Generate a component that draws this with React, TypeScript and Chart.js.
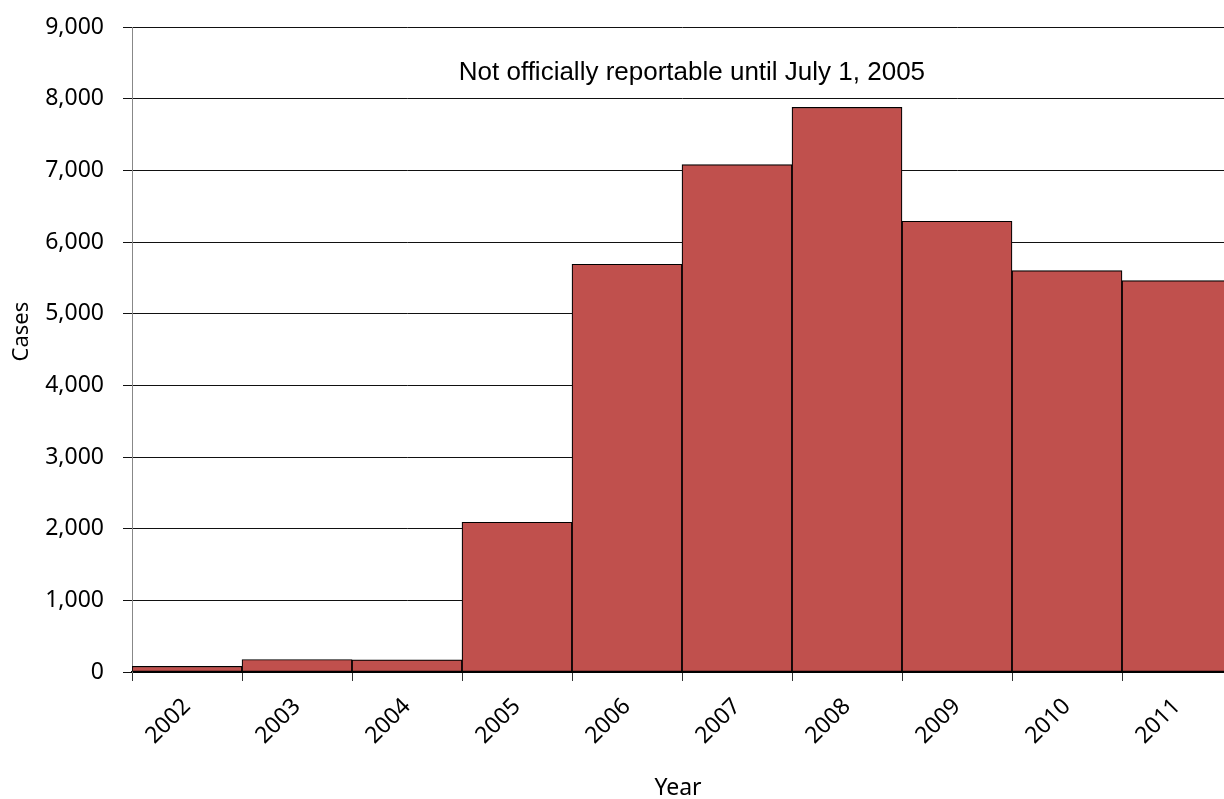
import React, { useEffect, useRef } from "react";
import { Chart, registerables } from "chart.js";

Chart.register(...registerables);

const years = ["2002", "2003", "2004", "2005", "2006", "2007", "2008", "2009", "2010", "2011"];
const cases = [80, 175, 170, 2090, 5690, 7080, 7880, 6290, 5600, 5460];
const yTicksMax = 9000;
const yTickStep = 1000;
const noteText = "Not officially reportable until July 1, 2005";
const xTitle = "Year";
const yTitle = "Cases";

const tickFont = "Noto Sans";

export default function App() {
  const ref = useRef<HTMLCanvasElement | null>(null);
  useEffect(() => {
    if (!ref.current) return;
    const textPlugin = {
      id: "texts",
      afterDraw(chart: any) {
        const ctx = chart.ctx;
        const ca = chart.chartArea;
        const xs = chart.scales.x;
        const ys = chart.scales.y;
        ctx.save();
        ctx.fillStyle = "#000";
        ctx.textAlign = "center";
        ctx.textBaseline = "middle";
        ctx.font = "26px 'Liberation Sans', Arial, sans-serif";
        ctx.fillText(noteText, xs.getPixelForValue(4.59), ys.getPixelForValue(8360));
        ctx.font = `23px '${tickFont}', sans-serif`;
        ctx.fillText(xTitle, (ca.left + ca.right) / 2 - 4, 788);
        ctx.font = `22px '${tickFont}', sans-serif`;
        ctx.translate(22, ys.getPixelForValue(4750));
        ctx.rotate(-Math.PI / 2);
        ctx.fillText(yTitle, 0, 0);
        ctx.restore();
      },
    };
    const chart = new Chart(ref.current, {
      type: "bar",
      data: {
        labels: years,
        datasets: [
          {
            data: cases,
            backgroundColor: "#C0504D",
            borderColor: "#000",
            borderWidth: 1.2,
            borderSkipped: false,
            categoryPercentage: 1,
            barPercentage: 1,
          },
        ],
      },
      options: {
        animation: false,
        responsive: true,
        maintainAspectRatio: false,
        layout: { padding: { top: 27, right: 8, left: 0, bottom: 0 } },
        plugins: { legend: { display: false }, tooltip: { enabled: false } },
        scales: {
          x: {
            offset: true,
            grid: {
              offset: true,
              drawOnChartArea: false,
              drawTicks: true,
              tickLength: 9,
              color: "#333",
            },
            border: { display: true, color: "#000", width: 2 },
            ticks: {
              minRotation: 45,
              maxRotation: 45,
              padding: 12,
              color: "#000",
              font: { family: tickFont, size: 23 },
            },
            afterFit(scale: any) {
              scale.height = 127;
            },
          },
          y: {
            min: 0,
            max: yTicksMax,
            grid: { color: "#111", lineWidth: 1, tickLength: 9 },
            border: { display: true, color: "#888", width: 1 },
            ticks: {
              stepSize: yTickStep,
              padding: 19,
              color: "#000",
              font: { family: tickFont, size: 23 },
              callback: (v: any) => Number(v).toLocaleString("en-US"),
            },
            afterFit(scale: any) {
              scale.width = 132;
              scale.paddingTop = 0;
              scale.paddingBottom = 0;
            },
          },
        },
      },
      plugins: [textPlugin],
    });
    return () => chart.destroy();
  }, []);
  return (
    <div
      style={{
        position: "fixed",
        left: 0,
        top: 0,
        width: 1224,
        height: 799,
        overflow: "hidden",
        background: "#fff",
      }}
    >
      <div style={{ position: "relative", width: 1240, height: 799 }}>
        <canvas ref={ref} />
      </div>
    </div>
  );
}
